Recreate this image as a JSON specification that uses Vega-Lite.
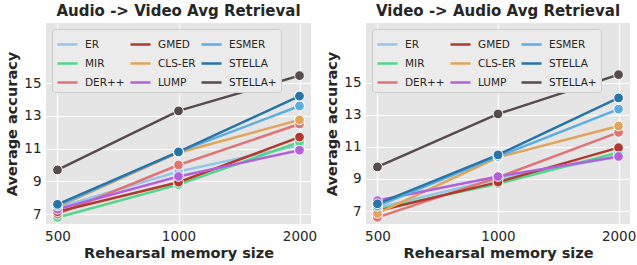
{
  "$schema": "https://vega.github.io/schema/vega-lite/v6.json",
  "padding": {"left": 4, "top": 4, "right": 2, "bottom": 4},
  "background": "white",
  "datasets": {
    "av": [
      {"method": "ER", "mem": 500, "acc": 7.4}, {"method": "ER", "mem": 1000, "acc": 9.6}, {"method": "ER", "mem": 2000, "acc": 11.2},
      {"method": "MIR", "mem": 500, "acc": 6.8}, {"method": "MIR", "mem": 1000, "acc": 8.8}, {"method": "MIR", "mem": 2000, "acc": 11.4},
      {"method": "DER++", "mem": 500, "acc": 7.0}, {"method": "DER++", "mem": 1000, "acc": 10.0}, {"method": "DER++", "mem": 2000, "acc": 12.5},
      {"method": "GMED", "mem": 500, "acc": 7.15}, {"method": "GMED", "mem": 1000, "acc": 8.95}, {"method": "GMED", "mem": 2000, "acc": 11.7},
      {"method": "CLS-ER", "mem": 500, "acc": 7.45}, {"method": "CLS-ER", "mem": 1000, "acc": 10.75}, {"method": "CLS-ER", "mem": 2000, "acc": 12.75},
      {"method": "LUMP", "mem": 500, "acc": 7.3}, {"method": "LUMP", "mem": 1000, "acc": 9.3}, {"method": "LUMP", "mem": 2000, "acc": 10.9},
      {"method": "ESMER", "mem": 500, "acc": 7.5}, {"method": "ESMER", "mem": 1000, "acc": 10.8}, {"method": "ESMER", "mem": 2000, "acc": 13.6},
      {"method": "STELLA", "mem": 500, "acc": 7.6}, {"method": "STELLA", "mem": 1000, "acc": 10.8}, {"method": "STELLA", "mem": 2000, "acc": 14.2},
      {"method": "STELLA+", "mem": 500, "acc": 9.7}, {"method": "STELLA+", "mem": 1000, "acc": 13.3}, {"method": "STELLA+", "mem": 2000, "acc": 15.45}
    ],
    "va": [
      {"method": "ER", "mem": 500, "acc": 7.2}, {"method": "ER", "mem": 1000, "acc": 9.0}, {"method": "ER", "mem": 2000, "acc": 10.4},
      {"method": "MIR", "mem": 500, "acc": 7.1}, {"method": "MIR", "mem": 1000, "acc": 8.7}, {"method": "MIR", "mem": 2000, "acc": 10.65},
      {"method": "DER++", "mem": 500, "acc": 6.6}, {"method": "DER++", "mem": 1000, "acc": 9.1}, {"method": "DER++", "mem": 2000, "acc": 11.9},
      {"method": "GMED", "mem": 500, "acc": 7.0}, {"method": "GMED", "mem": 1000, "acc": 8.8}, {"method": "GMED", "mem": 2000, "acc": 10.95},
      {"method": "CLS-ER", "mem": 500, "acc": 6.85}, {"method": "CLS-ER", "mem": 1000, "acc": 10.35}, {"method": "CLS-ER", "mem": 2000, "acc": 12.3},
      {"method": "LUMP", "mem": 500, "acc": 7.65}, {"method": "LUMP", "mem": 1000, "acc": 9.15}, {"method": "LUMP", "mem": 2000, "acc": 10.4},
      {"method": "ESMER", "mem": 500, "acc": 7.3}, {"method": "ESMER", "mem": 1000, "acc": 10.4}, {"method": "ESMER", "mem": 2000, "acc": 13.35},
      {"method": "STELLA", "mem": 500, "acc": 7.45}, {"method": "STELLA", "mem": 1000, "acc": 10.5}, {"method": "STELLA", "mem": 2000, "acc": 14.05},
      {"method": "STELLA+", "mem": 500, "acc": 9.75}, {"method": "STELLA+", "mem": 1000, "acc": 13.05}, {"method": "STELLA+", "mem": 2000, "acc": 15.5}
    ]
  },
  "config": {
    "font": "DejaVu Sans",
    "view": {"stroke": null, "fill": "#e5e5e5"},
    "axis": {
      "domain": false, "ticks": false, "grid": true, "gridColor": "white", "gridWidth": 1.2,
      "labelFontSize": 13.5, "labelColor": "#262626", "labelPadding": 5,
      "titleFontSize": 14.5, "titleFontWeight": "bold", "titleColor": "#262626"
    },
    "title": {"fontSize": 15, "fontWeight": "bold", "color": "#262626", "offset": 4},
    "legend": {
      "orient": "top-left", "offset": 5.5, "columns": 3, "title": null,
      "symbolType": "stroke", "symbolSize": 400, "symbolStrokeWidth": 2.5,
      "labelFontSize": 10.5, "labelColor": "#262626", "labelOffset": 6,
      "rowPadding": 2, "columnPadding": 0, "padding": 4,
      "fillColor": "#ebebeb", "strokeColor": "#cccccc", "cornerRadius": 3
    },
    "concat": {"spacing": 55}
  },
  "bounds": "flush",
  "resolve": {"legend": {"color": "independent"}, "scale": {"y": "independent"}},
  "hconcat": [
    {
      "title": "Audio -> Video Avg Retrieval",
      "width": 265, "height": 201,
      "data": {"name": "av"},
      "encoding": {
        "x": {"field": "mem", "type": "ordinal", "title": "Rehearsal memory size",
              "scale": {"type": "point", "domain": [500, 1000, 2000], "padding": 0.095},
              "axis": {"labelAngle": 0}},
        "y": {"field": "acc", "type": "quantitative", "title": "Average accuracy",
              "scale": {"domain": [6.4, 18.66], "nice": false, "zero": false},
              "axis": {"values": [7, 9, 11, 13, 15]}},
        "color": {"field": "method", "type": "nominal",
                  "scale": {"domain": ["ER", "MIR", "DER++", "GMED", "CLS-ER", "LUMP", "ESMER", "STELLA", "STELLA+"],
                            "range": ["#94c6e8", "#52d68a", "#e07474", "#b03a2e", "#e0a45a", "#b361db", "#5dade2", "#2874a6", "#574b4c"]}}
      },
      "layer": [
        {"mark": {"type": "line", "strokeWidth": 2.5}},
        {"mark": {"type": "point", "filled": true, "size": 95, "stroke": "white", "strokeWidth": 1, "opacity": 1}}
      ]
    },
    {
      "title": "Video -> Audio Avg Retrieval",
      "width": 264, "height": 201,
      "data": {"name": "va"},
      "encoding": {
        "x": {"field": "mem", "type": "ordinal", "title": "Rehearsal memory size",
              "scale": {"type": "point", "domain": [500, 1000, 2000], "padding": 0.095},
              "axis": {"labelAngle": 0}},
        "y": {"field": "acc", "type": "quantitative", "title": "Average accuracy",
              "scale": {"domain": [6.19, 18.72], "nice": false, "zero": false},
              "axis": {"values": [7, 9, 11, 13, 15]}},
        "color": {"field": "method", "type": "nominal",
                  "scale": {"domain": ["ER", "MIR", "DER++", "GMED", "CLS-ER", "LUMP", "ESMER", "STELLA", "STELLA+"],
                            "range": ["#94c6e8", "#52d68a", "#e07474", "#b03a2e", "#e0a45a", "#b361db", "#5dade2", "#2874a6", "#574b4c"]}}
      },
      "layer": [
        {"mark": {"type": "line", "strokeWidth": 2.5}},
        {"mark": {"type": "point", "filled": true, "size": 95, "stroke": "white", "strokeWidth": 1, "opacity": 1}}
      ]
    }
  ]
}
